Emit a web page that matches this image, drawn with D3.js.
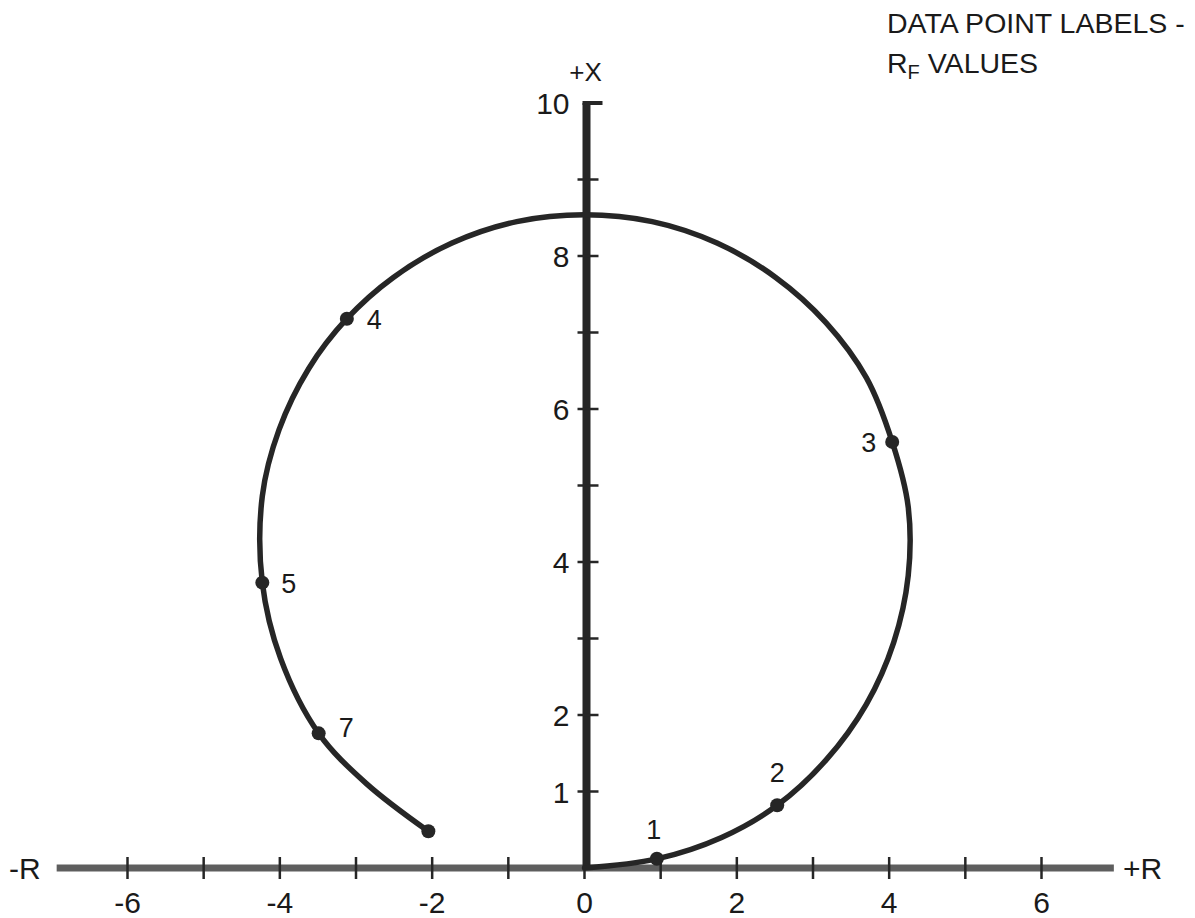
<!DOCTYPE html>
<html>
<head>
<meta charset="utf-8">
<script src="https://cdn.jsdelivr.net/npm/d3@7"></script>
<style>
  html, body { margin: 0; padding: 0; background: #fff; }
  svg { display: block; }
  text { font-family: "Liberation Sans", Arial, Helvetica, sans-serif; fill: #1a1a1a; }
</style>
</head>
<body>
<svg id="chart" width="1195" height="918"></svg>
<script>
// Locus traced on the R–X plane (R horizontal, X vertical)
const locusR = [0, 0.95, 1.80, 2.53, 3.17, 3.70, 4.06, 4.25, 4.25, 4.04, 3.70, 3.17, 2.51, 1.74, 0.89, 0, -0.89, -1.74, -2.51, -3.12, -3.62, -4.01, -4.23, -4.23, -3.99, -3.49, -2.86, -2.05];
const locusX = [0, 0.12, 0.40, 0.82, 1.41, 2.14, 2.95, 3.82, 4.72, 5.57, 6.41, 7.13, 7.72, 8.17, 8.45, 8.54, 8.45, 8.17, 7.72, 7.18, 6.53, 5.73, 4.86, 3.73, 2.74, 1.76, 1.10, 0.48];

// Marked data points and their RF labels ("" = unlabeled end point)
const pointR = [0.95, 2.53, 4.04, -3.12, -4.23, -3.49, -2.05];
const pointX = [0.12, 0.82, 5.57, 7.18, 3.73, 1.76, 0.48];
const pointLabels = ["1", "2", "3", "4", "5", "7", ""];

// Axis ticks
const rTicks = [-6, -5, -4, -3, -2, -1, 0, 1, 2, 3, 4, 5, 6];
const rTickLabels = [-6, -4, -2, 0, 2, 4, 6];
const xTicks = [1, 2, 3, 4, 5, 6, 7, 8, 9, 10];
const xTickLabels = [1, 2, 4, 6, 8, 10];

const svg = d3.select("#chart");

const sx = d3.scaleLinear().domain([-6, 6]).range([127.5, 1041.5]);
const sy = d3.scaleLinear().domain([0, 10]).range([868, 103]);

const axisGrey = "#5e5e5e";
const ink = "#262626";

// Horizontal R axis
svg.append("line")
  .attr("x1", sx(-6.93)).attr("x2", sx(6.95))
  .attr("y1", sy(0)).attr("y2", sy(0))
  .attr("stroke", axisGrey).attr("stroke-width", 7);

svg.append("g").selectAll("line").data(rTicks).join("line")
  .attr("x1", d => sx(d)).attr("x2", d => sx(d))
  .attr("y1", sy(0) - 11).attr("y2", sy(0) + 11)
  .attr("stroke", ink).attr("stroke-width", 2.5);

svg.append("g").selectAll("text").data(rTickLabels).join("text")
  .attr("x", d => sx(d)).attr("y", sy(0) + 45)
  .attr("text-anchor", "middle")
  .attr("font-size", 30)
  .text(d => d < 0 ? "-" + Math.abs(d) : String(d));

svg.append("text").attr("x", 9).attr("y", sy(0) + 11)
  .attr("font-size", 30).text("-R");
svg.append("text").attr("x", 1123).attr("y", sy(0) + 11)
  .attr("font-size", 30).text("+R");

// Vertical X axis
svg.append("line")
  .attr("x1", sx(0) + 2).attr("x2", sx(0) + 2)
  .attr("y1", sy(0)).attr("y2", sy(10))
  .attr("stroke", ink).attr("stroke-width", 8);

svg.append("g").selectAll("line").data(xTicks).join("line")
  .attr("x1", d => sx(0) + (d === 10 ? -2 : -7))
  .attr("x2", d => sx(0) + (d === 10 ? 18 : 14))
  .attr("y1", d => sy(d)).attr("y2", d => sy(d))
  .attr("stroke", ink).attr("stroke-width", d => d === 10 ? 4 : 2.5);

svg.append("g").selectAll("text").data(xTickLabels).join("text")
  .attr("x", sx(0) - 15).attr("y", d => sy(d) + 11)
  .attr("text-anchor", "end")
  .attr("font-size", 30)
  .text(d => String(d));

svg.append("text").attr("x", sx(0) + 1).attr("y", 81)
  .attr("text-anchor", "middle")
  .attr("font-size", 26).text("+X");

// Locus curve
const locus = locusR.map((r, i) => [r, locusX[i]]);
svg.append("path")
  .datum(locus)
  .attr("fill", "none")
  .attr("stroke", ink)
  .attr("stroke-width", 5.5)
  .attr("stroke-linecap", "round")
  .attr("d", d3.line().x(d => sx(d[0])).y(d => sy(d[1])).curve(d3.curveCatmullRom.alpha(0.5)));

// Data points
const points = pointR.map((r, i) => ({ r, x: pointX[i], label: pointLabels[i] }));
svg.append("g").selectAll("circle").data(points).join("circle")
  .attr("cx", d => sx(d.r)).attr("cy", d => sy(d.x))
  .attr("r", 7).attr("fill", ink);

// Label placement relative to each point
const place = {
  "1": { dx: -3, dy: -20, anchor: "middle" },
  "2": { dx: 0, dy: -23, anchor: "middle" },
  "3": { dx: -16, dy: 10, anchor: "end" },
  "4": { dx: 20, dy: 10, anchor: "start" },
  "5": { dx: 19, dy: 10, anchor: "start" },
  "7": { dx: 20, dy: 4, anchor: "start" }
};
svg.append("g").selectAll("text").data(points.filter(p => p.label)).join("text")
  .attr("x", d => sx(d.r) + place[d.label].dx)
  .attr("y", d => sy(d.x) + place[d.label].dy)
  .attr("text-anchor", d => place[d.label].anchor)
  .attr("font-size", 27)
  .text(d => d.label);

// Legend note
svg.append("text").attr("x", 887).attr("y", 33)
  .attr("font-size", 28.5).text("DATA POINT LABELS -");
const note2 = svg.append("text").attr("x", 887).attr("y", 73).attr("font-size", 28.5);
note2.append("tspan").text("R");
note2.append("tspan").attr("font-size", 20).attr("dy", 6).text("F");
note2.append("tspan").attr("dy", -6).text(" VALUES");
</script>
</body>
</html>
